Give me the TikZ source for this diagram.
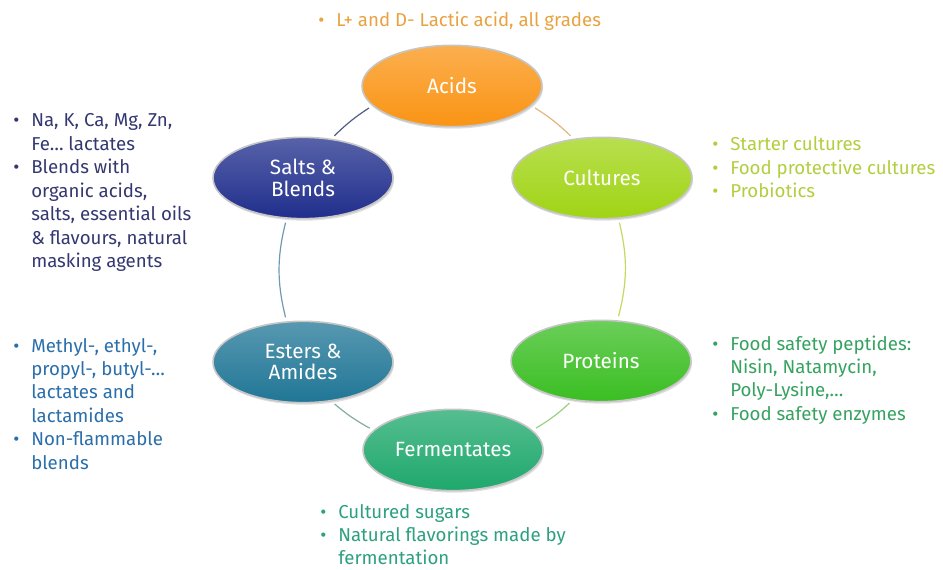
\documentclass[tikz,border=0pt]{standalone}
\usepackage{fontspec}
\setmainfont{Fira Sans}
\usepackage{xcolor}
\usepackage{tikz}
\usetikzlibrary{shapes.geometric,shadows}

\definecolor{acidfill}{RGB}{250,148,20}
\definecolor{cultfill}{RGB}{160,212,20}
\definecolor{protfill}{RGB}{58,190,34}
\definecolor{fermfill}{RGB}{30,168,108}
\definecolor{esterfill}{RGB}{32,118,150}
\definecolor{saltfill}{RGB}{32,46,140}
\definecolor{acidtext}{RGB}{232,162,64}
\definecolor{culttext}{RGB}{178,206,62}
\definecolor{prottext}{RGB}{54,162,96}
\definecolor{fermtext}{RGB}{44,160,128}
\definecolor{estertext}{RGB}{42,110,170}
\definecolor{salttext}{RGB}{52,56,112}
\definecolor{linkas}{RGB}{80,92,132}
\definecolor{linkse}{RGB}{112,152,180}
\definecolor{linkef}{RGB}{132,172,160}
\definecolor{linkfp}{RGB}{150,210,130}
\definecolor{linkpc}{RGB}{200,215,100}
\definecolor{linkca}{RGB}{226,182,124}

\newcommand{\blt}{\makebox[13.5pt][l]{\textbullet}}

\tikzset{
    disc/.style={ellipse,minimum width=135pt,minimum height=61pt,inner sep=0pt,
        draw=gray!45,line width=1.2pt,top color=#1!75!white,bottom color=#1,
        text=white,align=center,font=\fontsize{15.5}{16}\selectfont,
        drop shadow={opacity=0.25,shadow xshift=0.8pt,shadow yshift=-1.5pt}},
    list/.style={anchor=base west,inner sep=0pt,text=#1,font=\fontsize{14}{17.6}\selectfont},
    link/.style={line width=0.9pt,draw=#1,shorten <=3pt,shorten >=3pt}
}

\begin{document}
\begin{tikzpicture}[x=0.75pt,y=0.75pt]
    \useasboundingbox (0,0) rectangle (943,569);

    \node[disc=acidfill] (acids) at (452,483) {Acids};
    \node[disc=saltfill] (salts) at (303,391) {Salts \&\\Blends};
    \node[disc=cultfill] (cultures) at (602,391) {Cultures};
    \node[disc=esterfill] (esters) at (303,207) {Esters \&\\Amides};
    \node[disc=protfill] (proteins) at (601,208) {Proteins};
    \node[disc=fermfill] (ferm) at (453,119) {Fermentates};

    \draw[link=linkas] (acids.194) to[bend right=6] (salts.54);
    \draw[link=linkse] (salts.248) to[bend right=14] (esters.112);
    \draw[link=linkef] (esters.306) to[bend right=6] (ferm.166);
    \draw[link=linkfp] (ferm.14) to[bend right=6] (proteins.234);
    \draw[link=linkpc] (proteins.68) to[bend right=14] (cultures.292);
    \draw[link=linkca] (cultures.126) to[bend right=6] (acids.346);

    \node[list=acidtext] (acidlist) at (318,542) {\begin{tabular}[t]{@{}l@{}l@{}}
        \blt & L+ and D- Lactic acid, all grades\end{tabular}};
    \node[list=salttext] (saltlist) at (13,442) {\begin{tabular}[t]{@{}l@{}l@{}}
        \blt & Na, K, Ca, Mg, Zn,\\ & Fe… lactates\\
        \blt & Blends with\\ & organic acids,\\ & salts, essential oils\\
        & \& flavours, natural\\ & masking agents\end{tabular}};
    \node[list=culttext] (cultlist) at (712,418) {\begin{tabular}[t]{@{}l@{}l@{}}
        \blt & Starter cultures\\ \blt & Food protective cultures\\
        \blt & Probiotics\end{tabular}};
    \node[list=estertext] (esterlist) at (13,217) {\begin{tabular}[t]{@{}l@{}l@{}}
        \blt & Methyl-, ethyl-,\\ & propyl-, butyl-…\\ & lactates and\\ & lactamides\\
        \blt & Non-flammable\\ & blends\end{tabular}};
    \node[list=prottext] (protlist) at (712,219) {\begin{tabular}[t]{@{}l@{}l@{}}
        \blt & Food safety peptides:\\ & Nisin, Natamycin,\\ & Poly-Lysine,…\\
        \blt & Food safety enzymes\end{tabular}};
    \node[list=fermtext] (fermlist) at (320,51) {\begin{tabular}[t]{@{}l@{}l@{}}
        \blt & Cultured sugars\\ \blt & Natural flavorings made by\\
        & fermentation\end{tabular}};
\end{tikzpicture}
\end{document}
